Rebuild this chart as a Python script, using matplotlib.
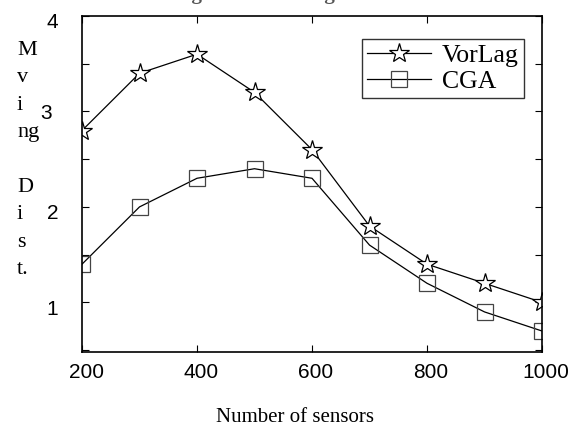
import numpy as np
import matplotlib
matplotlib.use("Agg")
import matplotlib.pyplot as plt
from matplotlib.transforms import ScaledTranslation

# data
sensors = [200, 300, 400, 500, 600, 700, 800, 900, 1000]
vorlag = [2.8, 3.4, 3.6, 3.2, 2.6, 1.8, 1.4, 1.2, 1.0]
cga = [1.4, 2.0, 2.3, 2.4, 2.3, 1.6, 1.2, 0.9, 0.7]
series_names = ["VorLag", "CGA"]
x_ticks = [200, 400, 600, 800, 1000]
y_ticks = [0.5, 1.0, 1.5, 2.0, 2.5, 3.0, 3.5, 4.0]
y_ticklabels = ["", "1", "", "2", "", "3", "", "4"]

W, H = 568, 428
SERIF = "Liberation Serif"
SANS = "Liberation Sans"

fig = plt.figure(figsize=(W / 100, H / 100), dpi=100)
ax = fig.add_axes([82 / W, 1 - 352 / H, 460 / W, 336 / H])

ax.plot(sensors, vorlag, color="black", lw=0.9, marker="*", markersize=15,
        markerfacecolor="white", markeredgecolor="black", markeredgewidth=0.9,
        label=series_names[0])
ax.plot(sensors, cga, color="black", lw=0.9, marker="s", markersize=11,
        markerfacecolor="none", markeredgecolor="#444444", markeredgewidth=0.9,
        label=series_names[1])

ax.set_xlim(200, 1000)
ax.set_ylim(0.48, 4.0)
ax.set_xticks(x_ticks)
ax.set_xticklabels([str(v) for v in x_ticks], fontsize=15, family=SANS)
ax.set_yticks(y_ticks)
ax.set_yticklabels(y_ticklabels, fontsize=15, family=SANS)
ax.tick_params(direction="in", top=True, right=True, length=5, width=0.8)
ax.tick_params(axis="x", pad=8)
ax.tick_params(axis="y", pad=17)
for sp in ax.spines.values():
    sp.set_linewidth(1.2)

# the labels sit a little off their ticks in the reference
for lab in ax.get_xticklabels():
    lab.set_transform(lab.get_transform() + ScaledTranslation(4 / 100, 0, fig.dpi_scale_trans))
for lab in ax.get_yticklabels():
    if lab.get_text() == "3":
        off = ScaledTranslation(-7 / 100, 0, fig.dpi_scale_trans)
    else:
        off = ScaledTranslation(0, -5 / 100, fig.dpi_scale_trans)
    lab.set_transform(lab.get_transform() + off)

leg = ax.legend(loc="upper left", bbox_to_anchor=(362 / W, 1 - 39 / H),
                bbox_transform=fig.transFigure, prop={"family": SERIF, "size": 18.5},
                frameon=True, fancybox=False, handlelength=2.5, handletextpad=0.4,
                borderpad=0.2, labelspacing=0.1, borderaxespad=0)
leg.get_frame().set_edgecolor("black")
leg.get_frame().set_linewidth(1.0)

# vertical letter-by-letter y label
fig.text(17 / W, 1 - 41 / H, "M\nv\ni\nng\n\nD\ni\ns\nt.", family=SERIF,
         fontsize=16, va="top", ha="left", linespacing=1.6)

fig.text(295 / W, 1 - 417 / H, "Number of sensors", family=SERIF,
         fontsize=15, ha="center", va="center")

# title mostly cut off at the top edge
fig.text(285 / W, 1 + 1 / H, "Figure 5: Coverage Ratio", family=SERIF,
         fontsize=15, weight="bold", color="#555555", ha="center", va="baseline")

fig.savefig("out.png", dpi=100)
